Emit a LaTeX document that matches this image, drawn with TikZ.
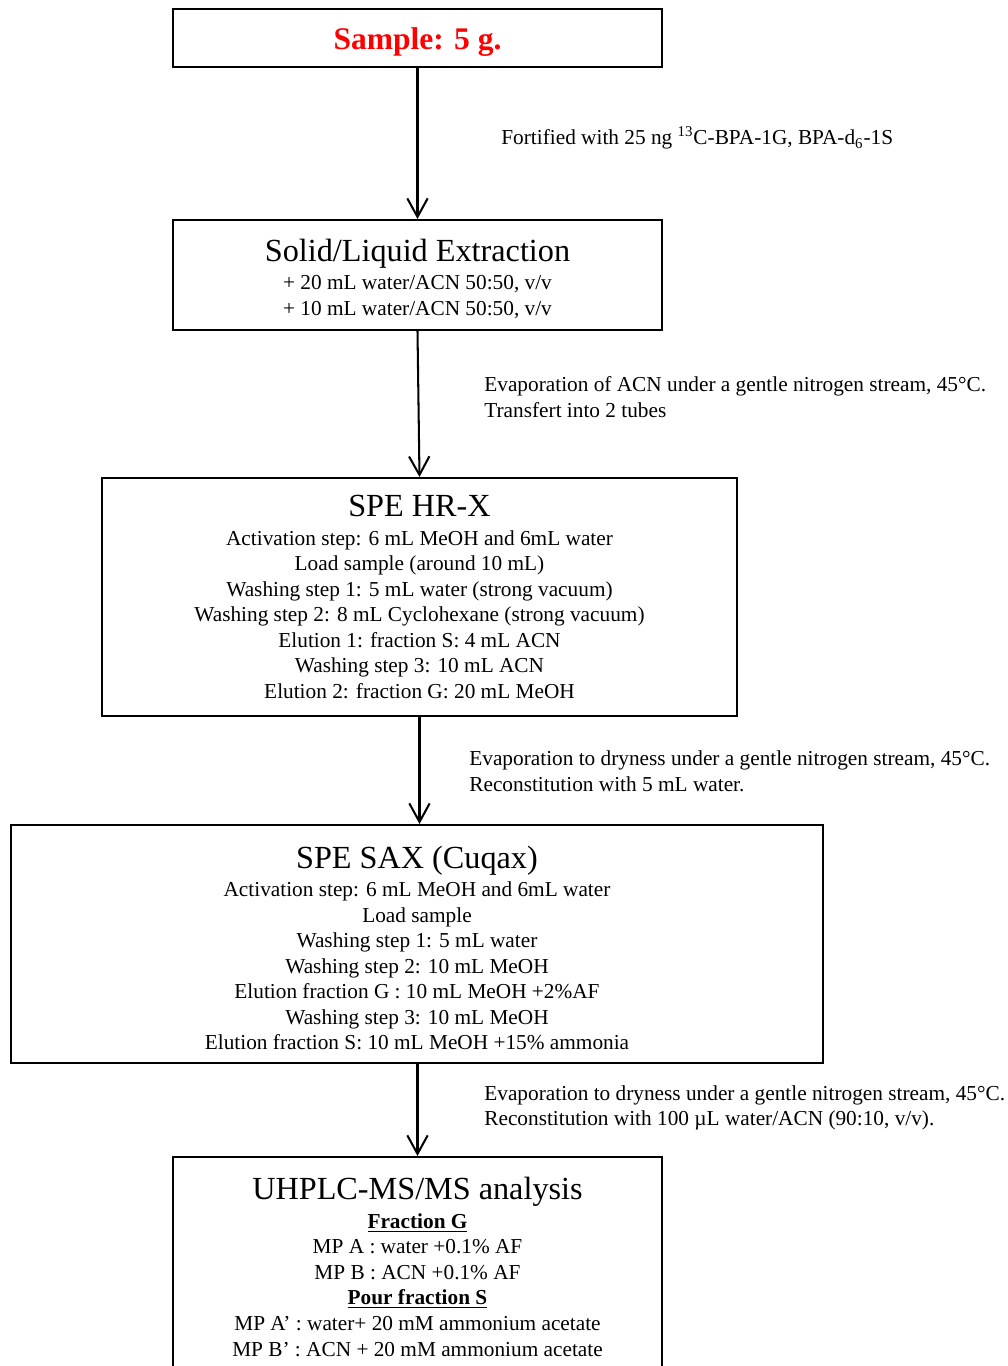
\documentclass[tikz,border=0pt]{standalone}
\usepackage{fontspec}
\setmainfont{Liberation Serif}
\usetikzlibrary{arrows.meta,positioning}
\tikzset{
  flow/.style={-{Straight Barb[length=10pt,width=11pt,line width=1.1pt]},line width=1.1pt},
}
\newcommand{\boxtitle}[2][0pt]{{\fontsize{17.4}{20}\selectfont\rule{0pt}{#1}#2}}

\begin{document}
\begin{tikzpicture}[x=0.54pt,y=-0.54pt,
block/.style={rectangle,draw,line width=1.1pt,
align=center,inner sep=0pt,
font=\fontsize{11.5}{13.8}\selectfont},
note/.style={anchor=west,align=left,inner sep=0pt,
font=\fontsize{11.5}{13.8}\selectfont},
]
\useasboundingbox (0,0) rectangle (1008,1366);
\clip (0,0) rectangle (1008,1366);
\node (sample) [block,minimum width=264.1pt,minimum height=31.3pt] at (417.5,38)
  {\fontsize{17}{20}\selectfont\bfseries\color{red}\rule{0pt}{16.4pt}Sample: 5 g.};
\node (sle) [block,minimum width=264.1pt,minimum height=59.4pt] at (417.5,275)
  {\boxtitle[16pt]{Solid/Liquid Extraction}\\[1.5pt]
  + 20 mL water/ACN 50:50, v/v\\
  + 10 mL water/ACN 50:50, v/v};
\node (hrx) [block,minimum width=342.9pt,minimum height=128.5pt] at (419.5,597)
  {\boxtitle{SPE HR-X}\\[1.5pt]
  Activation step: 6 mL MeOH and 6mL water\\
  Load sample (around 10 mL)\\
  Washing step 1: 5 mL water (strong vacuum)\\
  Washing step 2: 8 mL Cyclohexane (strong vacuum)\\
  Elution 1: fraction S: 4 mL ACN\\
  Washing step 3: 10 mL ACN\\
  Elution 2: fraction G: 20 mL MeOH};
\node (sax) [block,minimum width=438.5pt,minimum height=128.5pt] at (417,944)
  {\boxtitle[16.5pt]{SPE SAX (Cuqax)}\\[1.5pt]
  Activation step: 6 mL MeOH and 6mL water\\
  Load sample\\
  Washing step 1: 5 mL water\\
  Washing step 2: 10 mL MeOH\\
  Elution fraction G : 10 mL MeOH +2\%AF\\
  Washing step 3: 10 mL MeOH\\
  Elution fraction S: 10 mL MeOH +15\% ammonia};
\node (lcms) [block,minimum width=264.1pt,minimum height=118.8pt] at (417.5,1267)
  {\boxtitle{UHPLC-MS/MS analysis}\\[1.5pt]
  \underline{\textbf{Fraction G}}\\
  MP A : water +0.1\% AF\\
  MP B : ACN +0.1\% AF\\
  \underline{\textbf{Pour fraction S}}\\
  MP A’ : water+ 20 mM ammonium acetate\\
  MP B’ : ACN + 20 mM ammonium acetate};
% step notes
\node (n1) [note] at (501,138)
  {Fortified with 25 ng \textsuperscript{13}C-BPA-1G, BPA-d\textsubscript{6}-1S};
\node (n2) [note] at (484,397)
  {Evaporation of ACN under a gentle nitrogen stream, 45°C.\\
  Transfert into 2 tubes};
\node (n3) [note] at (469,771)
  {Evaporation to dryness under a gentle nitrogen stream, 45°C.\\
  Reconstitution with 5 mL water.};
\node (n4) [note] at (484,1108)
  {Evaporation to dryness under a gentle nitrogen stream, 45°C.\\
  Reconstitution with 100 µL water/ACN (90:10, v/v).};
\draw[flow] (sample) -- (sle);
\draw[flow] (sle.south) -- (hrx.north);
\draw[flow] (hrx.south) -- (hrx.south|-sax.north);
\draw[flow] (sax.south-|lcms.north) -- (lcms.north);
\end{tikzpicture}
\end{document}
